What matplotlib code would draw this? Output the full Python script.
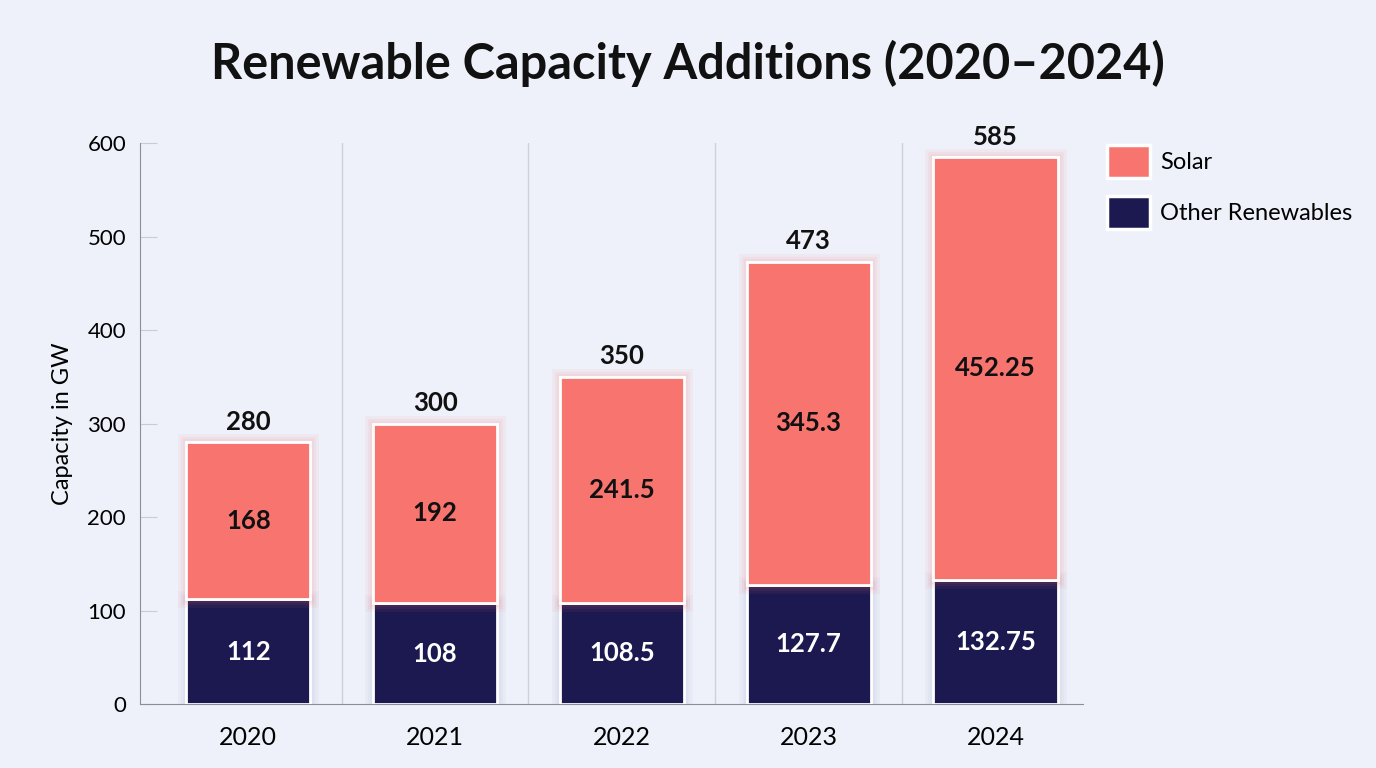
import numpy as np
import matplotlib.pyplot as plt
from matplotlib.patches import Patch
import matplotlib.patheffects as pe

years = ['2020', '2021', '2022', '2023', '2024']
other = [112, 108, 108.5, 127.7, 132.75]
solar = [168, 192, 241.5, 345.3, 452.25]
totals = [280, 300, 350, 473, 585]
other_labels = ['112', '108', '108.5', '127.7', '132.75']
solar_labels = ['168', '192', '241.5', '345.3', '452.25']

SOLAR = '#F8746F'
NAVY = '#1B1950'
BG = '#EEF1FA'

plt.rcParams['font.family'] = ['Lato', 'DejaVu Sans']

fig = plt.figure(figsize=(13.76, 7.68), dpi=100, facecolor=BG)
ax = fig.add_axes([0.1017, 0.0833, 0.6855, 0.7305])
ax.set_facecolor(BG)

x = np.arange(len(years))
w = 0.665


def glow(c):
    # soft halo around the bars: a few faint strokes, widest first
    return [pe.Stroke(linewidth=lw, foreground=c, alpha=0.07) for lw in (12, 8, 5)] + [pe.Normal()]


b1 = ax.bar(x, other, w, color=NAVY, edgecolor='white', linewidth=2, zorder=3)
b2 = ax.bar(x, solar, w, bottom=other, color=SOLAR, edgecolor='white', linewidth=2, zorder=3)
for r in b1:
    r.set_path_effects(glow('#9CA2C4'))
for r in b2:
    r.set_path_effects(glow(SOLAR))

for i in range(len(years)):
    ax.text(x[i], other[i] / 2, other_labels[i], ha='center', va='center',
            color='white', fontsize=18.5, fontweight='bold', zorder=4)
    ax.text(x[i], other[i] + solar[i] / 2, solar_labels[i], ha='center', va='center',
            color='#111111', fontsize=18.5, fontweight='bold', zorder=4)
    ax.annotate(str(totals[i]), (x[i], totals[i]), xytext=(0, 6), textcoords='offset points',
                ha='center', va='bottom', color='#111111', fontsize=18.5, fontweight='bold')

# separators between years
for b in x[:-1] + 0.5:
    ax.axvline(b, color='#CDD1DE', lw=1, zorder=1)

ax.set_xlim(-0.58, 4.47)
ax.set_ylim(0, 600)
ax.set_yticks(range(0, 601, 100))
ax.set_xticks(x)
ax.set_xticklabels(years, fontsize=18)
ax.tick_params(axis='y', labelsize=16, direction='in', length=12, color='#C8CCD8', pad=10)
ax.tick_params(axis='x', length=0, pad=16)
ax.set_ylabel('Capacity in GW', fontsize=17, labelpad=10)

for s in ['top', 'right']:
    ax.spines[s].set_visible(False)
ax.spines['left'].set_color('#8A8E99')
ax.spines['bottom'].set_color('#8A8E99')

fig.suptitle('Renewable Capacity Additions (2020\u20132024)', x=0.5, y=0.948,
             fontsize=35, fontweight='bold', color='#111111')

handles = [Patch(facecolor=SOLAR, edgecolor='white', linewidth=2.5, label='Solar'),
           Patch(facecolor=NAVY, edgecolor='white', linewidth=2.5, label='Other Renewables')]
ax.legend(handles=handles, loc='upper left', bbox_to_anchor=(1.003, 1.035), frameon=False,
          fontsize=17, handlelength=1.8, handleheight=1.8, labelspacing=0.75, handletextpad=0.45)

fig.savefig('out.png', dpi=100, facecolor=BG)
